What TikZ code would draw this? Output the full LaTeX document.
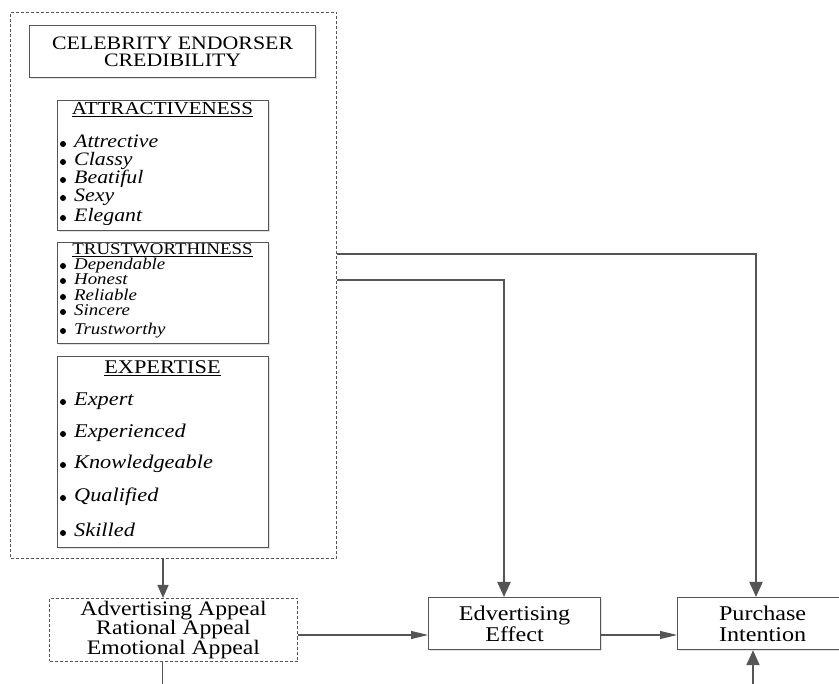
\documentclass[tikz,border=0pt]{standalone}
\usepackage{fontspec}
\setmainfont{Liberation Serif}[FakeStretch=1.15]
\usetikzlibrary{arrows.meta,shadows}

\definecolor{linec}{HTML}{555555}

\tikzset{
  box/.style={draw=linec, line width=1.2pt, fill=white, rectangle, inner sep=0pt,
    anchor=north west, align=center,
    drop shadow={shadow xshift=1.6pt, shadow yshift=-1.6pt, opacity=0.25, fill=black!45}},
  dashbox/.style={draw=linec, line width=1pt, dash pattern=on 3pt off 2pt, rectangle,
    inner sep=0pt, anchor=north west, align=center},
  head/.style={anchor=base, inner sep=0pt},
  item/.style={anchor=base west, inner sep=0pt},
  dot/.style={fill=black, inner sep=0pt, minimum size=6pt, circle},
  thickarrow/.style={draw=linec, line width=2pt, -{Triangle[length=15pt,width=13pt]}},
  midarrow/.style={draw=linec, line width=1.5pt, -{Triangle[length=13pt,width=11pt]}},
  thinarrow/.style={draw=linec, line width=1.1pt, -{Triangle[length=17pt,width=8pt]}},
  plainline/.style={draw=linec, line width=1.3pt}
}

\newcommand{\fs}[2]{\fontsize{#1}{#2}\selectfont}

\begin{document}
\begin{tikzpicture}[x=1pt,y=-1pt]
\useasboundingbox (0,0) rectangle (839,684);

% outer grouping frame
\node[dashbox, minimum width=326pt, minimum height=546pt] (outer) at (10,12) {};

% title
\node[box, minimum width=286pt, minimum height=52pt, font=\fs{19}{17.5}] (title) at (29,25)
  {CELEBRITY ENDORSER\\CREDIBILITY};

% attractiveness
\node[box, minimum width=211pt, minimum height=130pt] (attr) at (57,100) {};
\node[head, font=\fs{18.3}{18}] (attrh) at (162.5,115) {\underline{ATTRACTIVENESS}};
\foreach \t/\y [count=\i] in {Attrective/148, Classy/166, Beatiful/184, Sexy/202, Elegant/222}{
  \node[dot] (attrd\i) at (63,\y-4) {};
  \node[item, font=\fs{19}{18}\itshape] (attri\i) at (74,\y) {\t};
}

% trustworthiness
\node[box, minimum width=211pt, minimum height=101pt] (trust) at (57,242) {};
\node[head, font=\fs{16.4}{16}] (trusth) at (162.5,255) {\underline{TRUSTWORTHINESS}};
\foreach \t/\y [count=\i] in {Dependable/270, Honest/285, Reliable/301, Sincere/316, Trustworthy/335}{
  \node[dot] (trustd\i) at (63,\y-4) {};
  \node[item, font=\fs{16.4}{16}\itshape] (trusti\i) at (74,\y) {\t};
}

% expertise
\node[box, minimum width=211pt, minimum height=191pt] (expert) at (57,356) {};
\node[head, font=\fs{19.4}{18}] (experth) at (162.5,374) {\underline{EXPERTISE}};
\foreach \t/\y [count=\i] in {Expert/406, Experienced/438, Knowledgeable/469, Qualified/502, Skilled/537}{
  \node[dot] (expertd\i) at (63,\y-4) {};
  \node[item, font=\fs{19.4}{18}\itshape] (experti\i) at (74,\y) {\t};
}

% lower row
\node[dashbox, minimum width=248pt, minimum height=63pt, font=\fs{20.6}{19.5}] (adv) at (49,598)
  {Advertising Appeal\\Rational Appeal\\Emotional Appeal};
\node[box, minimum width=172pt, minimum height=52pt, font=\fs{21}{20.5}] (edv) at (428,597)
  {Edvertising\\Effect};
\node[box, minimum width=170pt, minimum height=52pt, font=\fs{21}{20.5}] (purch) at (677,597)
  {Purchase\\Intention};

% routing helpers
\coordinate (ya) at (0,254);
\coordinate (yb) at (0,280);
\coordinate (yc) at (0,635);
\coordinate (xa) at (756,0);
\coordinate (xb) at (504,0);
\coordinate (xc) at (163,0);
\coordinate (bl) at (162.5,690);
\coordinate (br) at (753,690);

% connectors
\draw[thickarrow] (outer.east |- ya) -| (xa |- purch.north);
\draw[thickarrow] (outer.east |- yb) -| (xb |- edv.north);
\draw[midarrow] (xc |- outer.south) -- (xc |- adv.north);
\draw[thinarrow] (adv.east |- yc) -- (edv.west |- yc);
\draw[thinarrow] (edv.east |- yc) -- (purch.west |- yc);
\draw[plainline] (bl |- adv.south) -- (bl);
\draw[thickarrow] (br) -- (br |- purch.south);
\end{tikzpicture}
\end{document}
